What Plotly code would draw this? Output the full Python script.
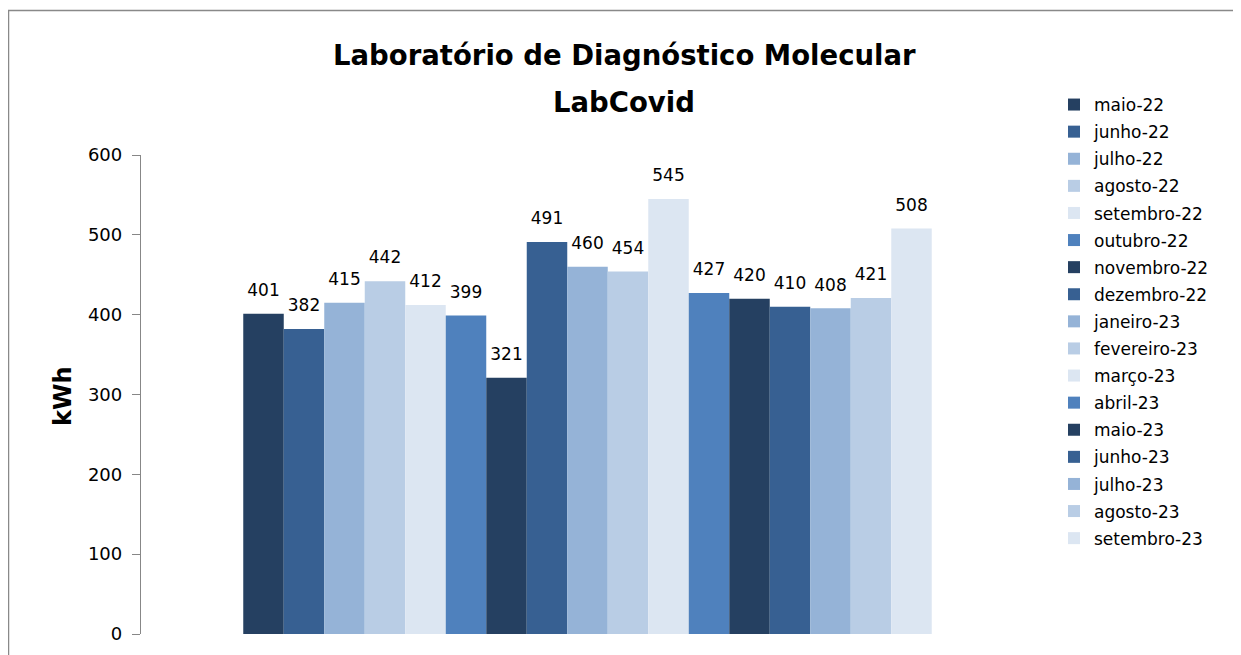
import plotly.graph_objects as go

months = ["maio-22", "junho-22", "julho-22", "agosto-22", "setembro-22", "outubro-22",
          "novembro-22", "dezembro-22", "janeiro-23", "fevereiro-23", "março-23", "abril-23",
          "maio-23", "junho-23", "julho-23", "agosto-23", "setembro-23"]
values = [401, 382, 415, 442, 412, 399, 321, 491, 460, 454, 545, 427, 420, 410, 408, 421, 508]
palette = ["#254061", "#376092", "#95B3D7", "#B9CDE5", "#DCE6F2", "#4F81BD"]

OFF = 8  # page body margin
W, H = 1241 - OFF, 655 - OFF
# plot area in page pixel coordinates
PL, PR, PT, PB = 141, 1034, 155, 634
L, R, T, B = PL - OFF, PR - OFF, PT - OFF, PB - OFF

def px(x):  # page x -> paper
    return (x - PL) / (PR - PL)

def py(y):  # page y -> paper
    return (PB - y) / (PB - PT)

FONT = "DejaVu Sans"
GAP = 0.229
fig = go.Figure()
for i, (m, v) in enumerate(zip(months, values)):
    fig.add_trace(go.Bar(
        x=[""], y=[v], name=m,
        marker=dict(color=palette[i % len(palette)], line=dict(width=0)),
        offsetgroup=str(i), legendgroup=m, hoverinfo="name+y",
    ))
for i, (m, v) in enumerate(zip(months, values)):
    fig.add_trace(go.Scatter(
        x=[""], y=[v], mode="markers+text", text=[str(v)], textposition="top center",
        textfont=dict(family=FONT, size=17, color="#000000"),
        marker=dict(size=20, opacity=0), offsetgroup=str(i), showlegend=False,
        cliponaxis=False, hoverinfo="skip", legendgroup=m,
    ))

fig.update_layout(
    width=W, height=H,
    margin=dict(l=L, r=W - R, t=T, b=H - B, autoexpand=False),
    paper_bgcolor="white", plot_bgcolor="white",
    barmode="group", bargap=GAP, bargroupgap=0,
    scattermode="group", scattergap=GAP,
    showlegend=True,
    legend=dict(x=px(1054), y=py(87), xanchor="left", yanchor="top",
                font=dict(family=FONT, size=17, color="#000000"),
                tracegroupgap=2, itemwidth=30, bgcolor="rgba(0,0,0,0)",
                maxheight=600),
    xaxis=dict(showticklabels=False, showline=False, showgrid=False, zeroline=False,
               range=[-0.5, 0.5], automargin=False),
    yaxis=dict(range=[0, 600], dtick=100, showgrid=False, zeroline=False,
               showline=True, linecolor="#878787", linewidth=1.3,
               ticks="outside", ticklen=8, tickcolor="#878787", tickwidth=1.3,
               tickfont=dict(family=FONT, size=18, color="#000000"),
               ticklabelstandoff=6, automargin=False),
    font=dict(family=FONT),
)

TFONT = dict(family=FONT, size=27.5, color="#000000")
fig.add_annotation(text="<b>Laboratório de Diagnóstico Molecular</b>", xref="paper", yref="paper",
                   x=px(624), y=py(55), xanchor="center", yanchor="middle", showarrow=False,
                   font=TFONT)
fig.add_annotation(text="<b>LabCovid</b>", xref="paper", yref="paper",
                   x=px(624), y=py(102), xanchor="center", yanchor="middle", showarrow=False,
                   font=TFONT)
fig.add_annotation(text="<b>kWh</b>", xref="paper", yref="paper", textangle=-90,
                   x=px(63), y=py(396), xanchor="center", yanchor="middle", showarrow=False,
                   font=dict(family=FONT, size=24, color="#000000"))

# chart border
fig.add_shape(type="line", xref="paper", yref="paper", x0=px(8), x1=px(1240), y0=py(10.5), y1=py(10.5),
              line=dict(color="#898989", width=1.5))
fig.add_shape(type="line", xref="paper", yref="paper", x0=px(8.5), x1=px(8.5), y0=py(10), y1=py(670),
              line=dict(color="#898989", width=1.5))
fig.add_shape(type="line", xref="paper", yref="paper", x0=px(1239.5), x1=px(1239.5), y0=py(10), y1=py(670),
              line=dict(color="#EDEDED", width=1))

fig.write_html("out.html")
